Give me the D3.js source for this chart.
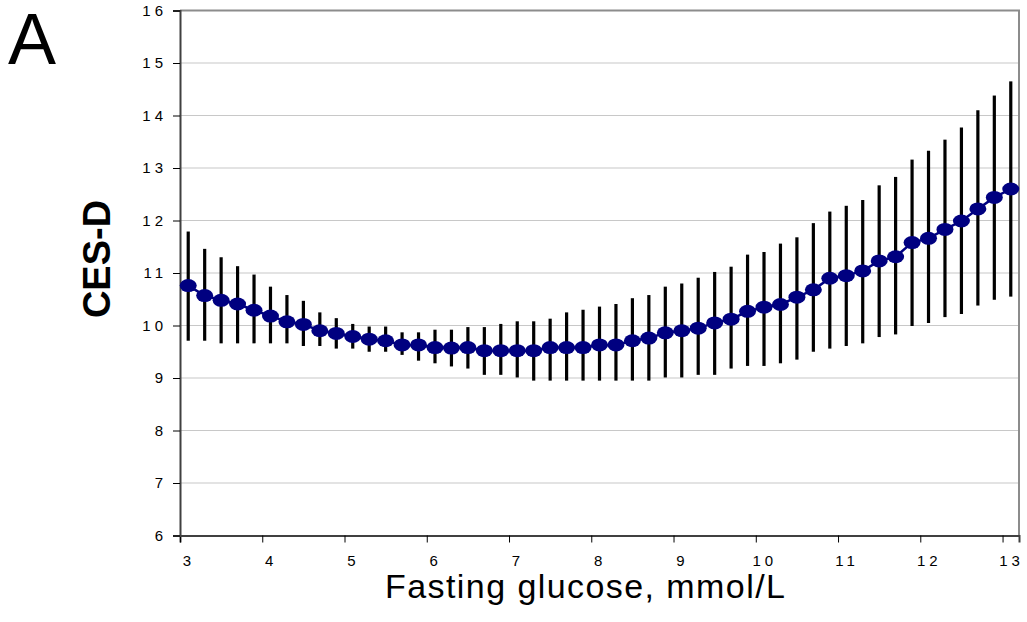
<!DOCTYPE html>
<html>
<head>
<meta charset="utf-8">
<script src="https://cdn.jsdelivr.net/npm/d3@7"></script>
<style>
body { margin: 0; background: #fff; }
text { font-family: "Liberation Sans", Arial, sans-serif; }
</style>
</head>
<body>
<script>
// fasting glucose (mmol/L) at each estimate
glucose = [3.1, 3.3, 3.5, 3.7, 3.9, 4.1, 4.3, 4.5, 4.7, 4.9,
           5.1, 5.3, 5.5, 5.7, 5.9, 6.1, 6.3, 6.5, 6.7, 6.9,
           7.1, 7.3, 7.5, 7.7, 7.9, 8.1, 8.3, 8.5, 8.7, 8.9,
           9.1, 9.3, 9.5, 9.7, 9.9, 10.1, 10.3, 10.5, 10.7, 10.9,
           11.1, 11.3, 11.5, 11.7, 11.9, 12.1, 12.3, 12.5, 12.7, 12.9, 13.1]

// predicted CES-D score
cesd = [10.76, 10.57, 10.48, 10.41, 10.29, 10.18, 10.07, 10.02, 9.90, 9.85,
        9.79, 9.74, 9.71, 9.63, 9.63, 9.58, 9.57, 9.58, 9.52, 9.52,
        9.52, 9.52, 9.58, 9.58, 9.58, 9.63, 9.63, 9.71, 9.76, 9.86,
        9.90, 9.95, 10.05, 10.12, 10.27, 10.35, 10.40, 10.54, 10.68, 10.90,
        10.95, 11.04, 11.23, 11.31, 11.58, 11.66, 11.83, 11.99, 12.22, 12.44, 12.60]

// confidence interval bounds
upper = [11.79, 11.46, 11.30, 11.13, 10.97, 10.74, 10.58, 10.47, 10.25, 10.14,
         10.03, 9.98, 9.98, 9.87, 9.87, 9.92, 9.92, 9.97, 9.97, 10.03,
         10.08, 10.08, 10.13, 10.25, 10.30, 10.36, 10.41, 10.52, 10.58, 10.74,
         10.80, 10.91, 11.02, 11.12, 11.35, 11.40, 11.56, 11.68, 11.95, 12.17,
         12.28, 12.39, 12.67, 12.83, 13.16, 13.33, 13.54, 13.77, 14.10, 14.38, 14.65]

lower = [9.71, 9.71, 9.66, 9.66, 9.66, 9.66, 9.66, 9.61, 9.61, 9.56,
         9.56, 9.50, 9.50, 9.44, 9.33, 9.28, 9.22, 9.18, 9.06, 9.06,
         9.01, 8.95, 8.95, 8.95, 8.95, 8.95, 8.95, 8.95, 8.95, 9.01,
         9.01, 9.06, 9.06, 9.18, 9.23, 9.23, 9.28, 9.35, 9.50, 9.56,
         9.61, 9.66, 9.78, 9.83, 9.99, 10.05, 10.16, 10.22, 10.38, 10.49, 10.55]

xTicks = [3, 4, 5, 6, 7, 8, 9, 10, 11, 12, 13]
yTicks = [6, 7, 8, 9, 10, 11, 12, 13, 14, 15, 16]

w = 1027
h = 622

svg = d3.select("body").append("svg")
        .attr("width", w)
        .attr("height", h)

x = d3.scaleLinear().domain([3, 13.2]).range([180, 1019])
y = d3.scaleLinear().domain([6, 16]).range([535.5, 10.5])

// gridlines
svg.append("g").selectAll("line").data(yTicks.slice(1, -1))
        .enter().append("line")
        .attr("x1", x(3)).attr("x2", x(13.2))
        .attr("y1", function(d) { return y(d) })
        .attr("y2", function(d) { return y(d) })
        .attr("stroke", "#c8c8c8")
        .attr("stroke-width", 1.2)

// top / right frame
svg.append("path")
        .attr("d", "M" + x(3) + "," + y(16) + "H" + x(13.2) + "V" + y(6))
        .attr("fill", "none")
        .attr("stroke", "#8c8c8c")
        .attr("stroke-width", 2)

// axes
xAxis = svg.append("g")
        .attr("transform", "translate(0," + y(6) + ")")
        .call(d3.axisBottom(x).tickValues(xTicks).tickSize(7).tickFormat(""))
xAxis.select(".domain").attr("stroke", "#404040").attr("stroke-width", 2)

yAxis = svg.append("g")
        .attr("transform", "translate(" + x(3) + ",0)")
        .call(d3.axisLeft(y).tickValues(yTicks).tickSize(7).tickFormat(""))
yAxis.select(".domain").attr("stroke", "#404040").attr("stroke-width", 2)

svg.append("g").selectAll("text").data(xTicks)
        .enter().append("text")
        .attr("x", function(d) { return x(d) + 9 })
        .attr("y", 566)
        .attr("text-anchor", "middle")
        .attr("font-size", 15)
        .attr("letter-spacing", 4)
        .text(function(d) { return d })

svg.append("g").selectAll("text").data(yTicks)
        .enter().append("text")
        .attr("x", 167)
        .attr("y", function(d) { return y(d) + 5 })
        .attr("text-anchor", "end")
        .attr("font-size", 15)
        .attr("letter-spacing", 4)
        .text(function(d) { return d })

pts = glucose.map(function(g, i) {
        return { G: g, V: cesd[i], Lo: lower[i], Hi: upper[i] }
})

// error bars
svg.append("g").selectAll("line").data(pts)
        .enter().append("line")
        .attr("x1", function(d) { return x(d.G) })
        .attr("x2", function(d) { return x(d.G) })
        .attr("y1", function(d) { return y(d.Lo) })
        .attr("y2", function(d) { return y(d.Hi) })
        .attr("stroke", "black")
        .attr("stroke-width", 3.2)

line = d3.line()
        .x(function(d) { return x(d.G) })
        .y(function(d) { return y(d.V) })

svg.append("path").datum(pts)
        .attr("d", line)
        .attr("fill", "none")
        .attr("stroke", "#000080")
        .attr("stroke-width", 2.5)

svg.append("g").selectAll("ellipse").data(pts)
        .enter().append("ellipse")
        .attr("cx", function(d) { return x(d.G) })
        .attr("cy", function(d) { return y(d.V) })
        .attr("rx", 8.5)
        .attr("ry", 6.5)
        .attr("fill", "#000080")

// labels
svg.append("text")
        .attr("transform", "translate(110,259) rotate(-90)")
        .attr("text-anchor", "middle")
        .attr("font-size", 38)
        .attr("font-weight", "bold")
        .text("CES-D")

svg.append("text")
        .attr("x", 385)
        .attr("y", 598)
        .attr("font-size", 34)
        .attr("textLength", 400)
        .attr("lengthAdjust", "spacing")
        .text("Fasting glucose, mmol/L")

svg.append("text")
        .attr("x", 8)
        .attr("y", 64)
        .attr("font-size", 72)
        .text("A")
</script>
</body>
</html>
